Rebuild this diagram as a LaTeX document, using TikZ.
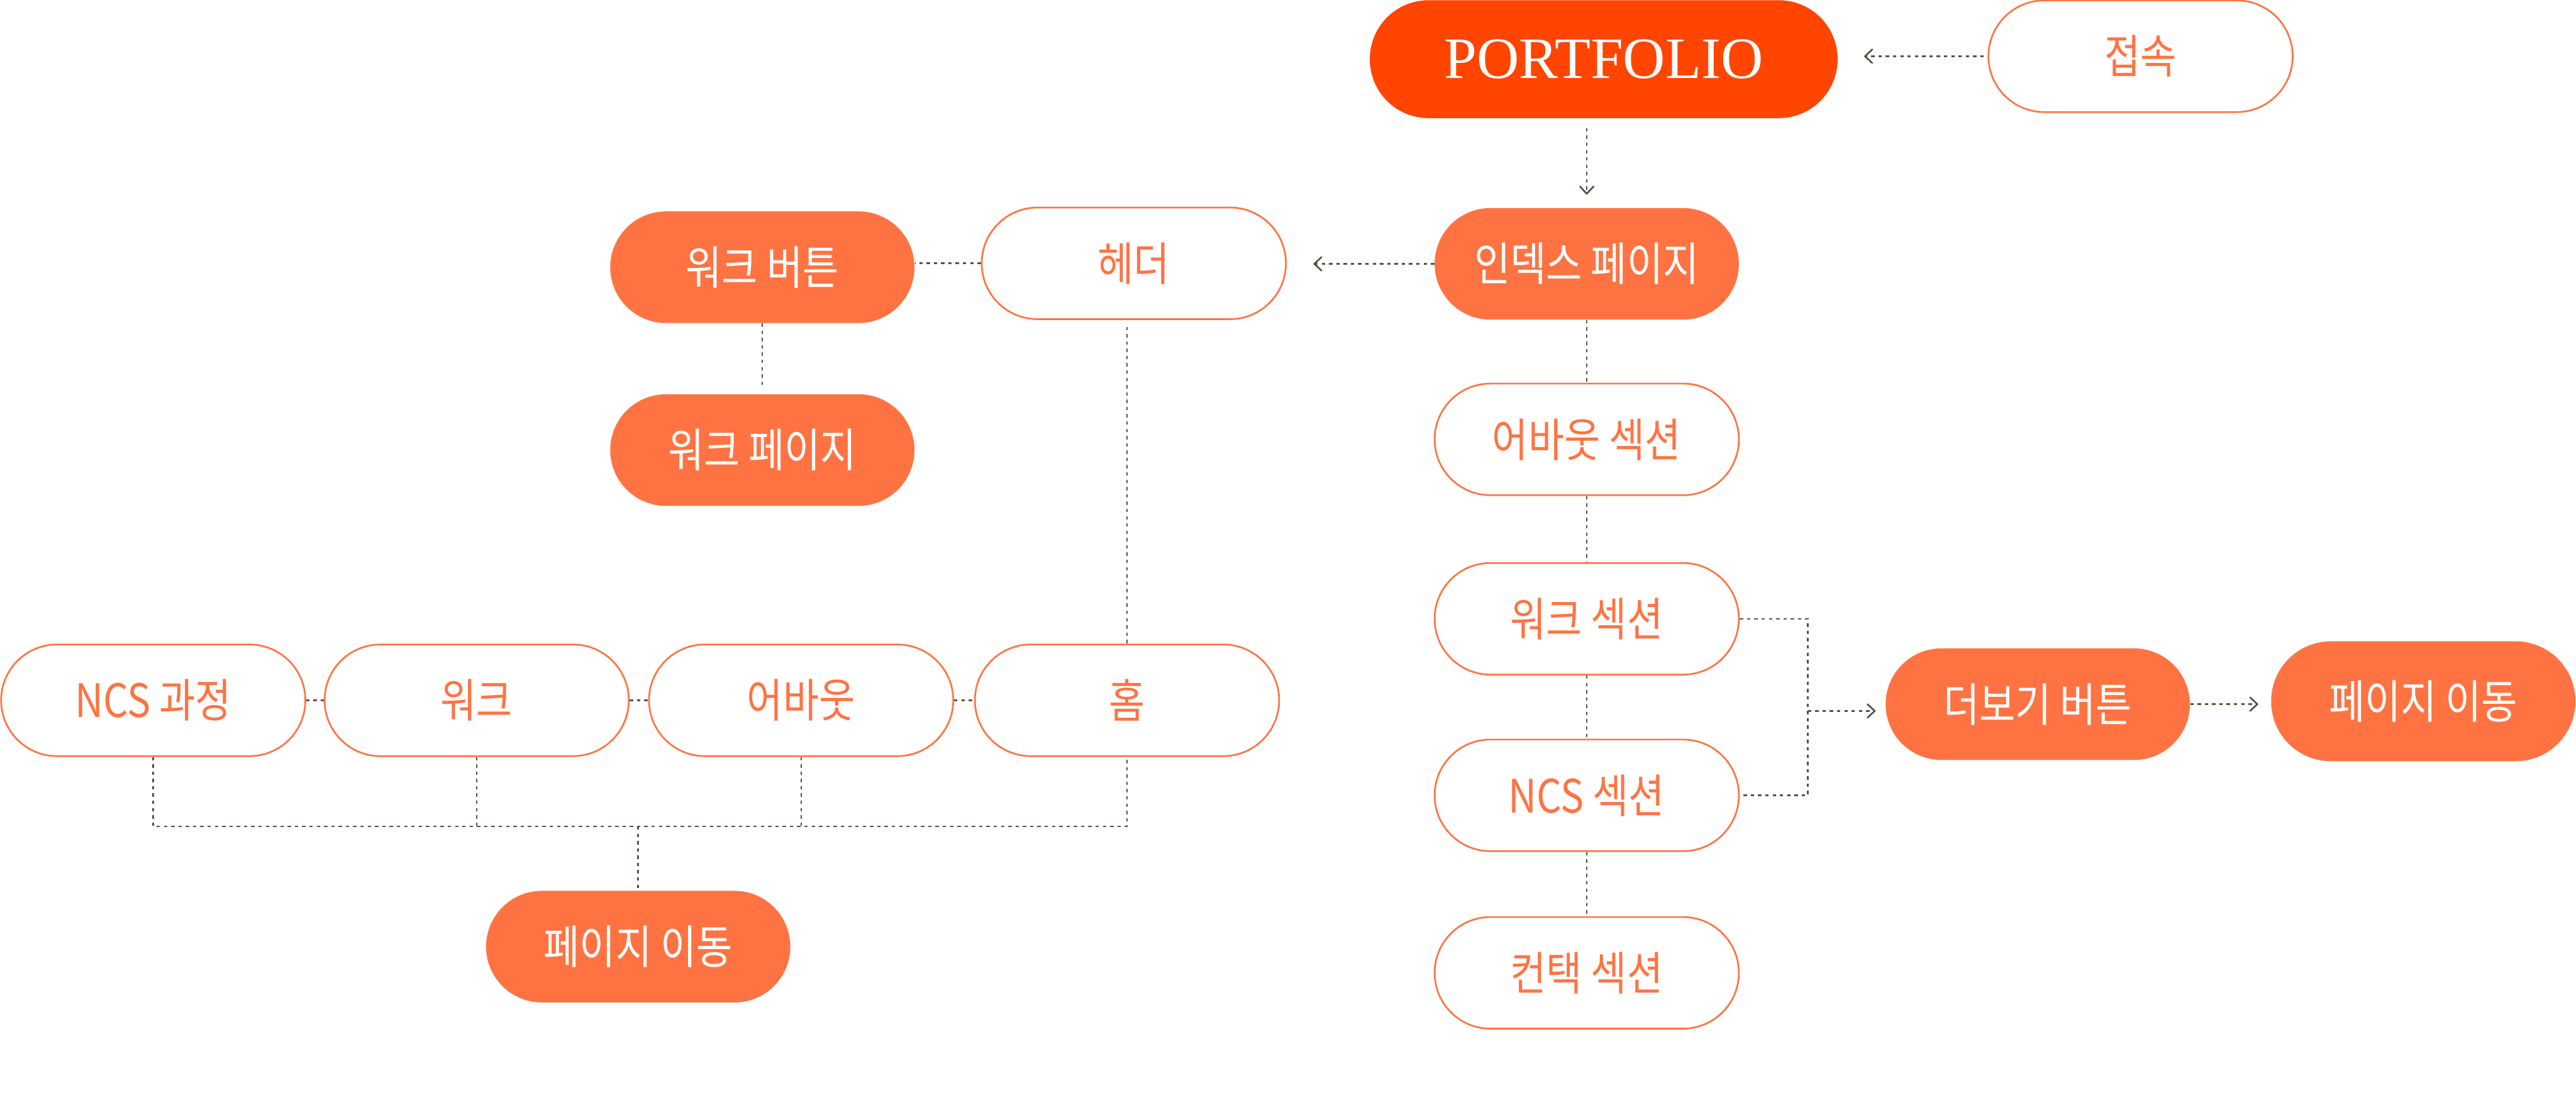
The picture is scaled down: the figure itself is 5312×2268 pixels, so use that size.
\documentclass[tikz,border=0pt]{standalone}
\usepackage{fontspec}
\setmainfont{Noto Sans CJK KR}[FakeStretch=0.85]
\newfontfamily\logofont{Liberation Serif}
\usetikzlibrary{arrows.meta}
\definecolor{brand}{HTML}{FF4500}
\definecolor{accent}{HTML}{FF7342}
\definecolor{wire}{HTML}{5B5040}

\begin{document}
\begin{tikzpicture}[x=0.01cm, y=-0.01cm,
  page/.style={rectangle, rounded corners=1.15cm, minimum width=6.27cm, minimum height=2.3cm, inner sep=0pt, font=\fontsize{27}{27}\selectfont},
  filled/.style={page, fill=accent, text=white},
  outlined/.style={page, draw=accent, line width=0.035cm, fill=white, text=accent},
  link/.style={draw=wire, line width=0.033cm, dash pattern=on 0.07cm off 0.08cm},
  arrow/.style={link, -{Straight Barb[length=0.15cm, width=0.28cm, line width=0.035cm, round]}}]
\useasboundingbox (0,0) rectangle (5312,2268);

% top: entry
\node[page, fill=brand, text=white, minimum width=9.64cm, minimum height=2.43cm, rounded corners=1.21cm, font=\logofont\fontsize{34.4}{34.4}\selectfont] (portfolio) at (3307,122) {PORTFOLIO};
\node[outlined] (access) at (4414,116) {접속};

% right column: index page sections
\node[filled] (index) at (3272,544) {인덱스 페이지};
\node[outlined] (aboutsec) at (3272,906) {어바웃 섹션};
\node[outlined] (worksec) at (3272,1276) {워크 섹션};
\node[outlined] (ncssec) at (3272,1640) {NCS 섹션};
\node[outlined] (contactsec) at (3272,2006) {컨택 섹션};
\node[filled] (more) at (4202,1452) {더보기 버튼};
\node[filled, minimum height=2.47cm, rounded corners=1.23cm] (moveright) at (4997,1446) {페이지 이동};

% left: header and menu
\node[outlined] (header) at (2338,543) {헤더};
\node[filled] (workbtn) at (1572,551) {워크 버튼};
\node[filled] (workpage) at (1572,928) {워크 페이지};
\node[outlined] (ncscourse) at (316,1444) {NCS 과정};
\node[outlined] (work) at (983,1444) {워크};
\node[outlined] (about) at (1652,1444) {어바웃};
\node[outlined] (home) at (2324,1444) {홈};
\node[filled] (movebottom) at (1316,1952) {페이지 이동};

\coordinate (mbus) at (3728,1466);
\coordinate (bus) at (0,1704);

\draw[arrow, shorten <=0.08cm, shorten >=0.54cm] (access.west) -- (access.west -| portfolio.east);
\draw[arrow, shorten <=0.2cm, shorten >=0.27cm] (portfolio.south -| index.north) -- (index.north);
\draw[arrow, shorten >=0.55cm] (index.west) -- (index.west -| header.east);
\draw[link] (header.west) -- (header.west -| workbtn.east);
\draw[link, shorten >=0.12cm] (workbtn.south) -- (workpage.north);
\draw[link, shorten <=0.14cm] (home.north |- header.south) -- (home.north);

\draw[link] (index) -- (aboutsec);
\draw[link] (aboutsec) -- (worksec);
\draw[link] (worksec) -- (ncssec);
\draw[link] (ncssec) -- (contactsec);
\draw[link] (worksec.east) -| (mbus) |- (ncssec.east);
\draw[arrow, shorten >=0.2cm] (mbus) -- (mbus -| more.west);
\draw[arrow, shorten >=0.26cm] (more.east) -- (more.east -| moveright.west);

\draw[link] (ncscourse) -- (work);
\draw[link] (work) -- (about);
\draw[link] (about) -- (home);
\draw[link] (ncscourse.south) -- (ncscourse.south |- bus) -- (home.south |- bus) -- (home.south);
\draw[link] (work.south) -- (work.south |- bus);
\draw[link] (about.south) -- (about.south |- bus);
\draw[link] (movebottom.north |- bus) -- (movebottom.north);
\end{tikzpicture}
\end{document}
